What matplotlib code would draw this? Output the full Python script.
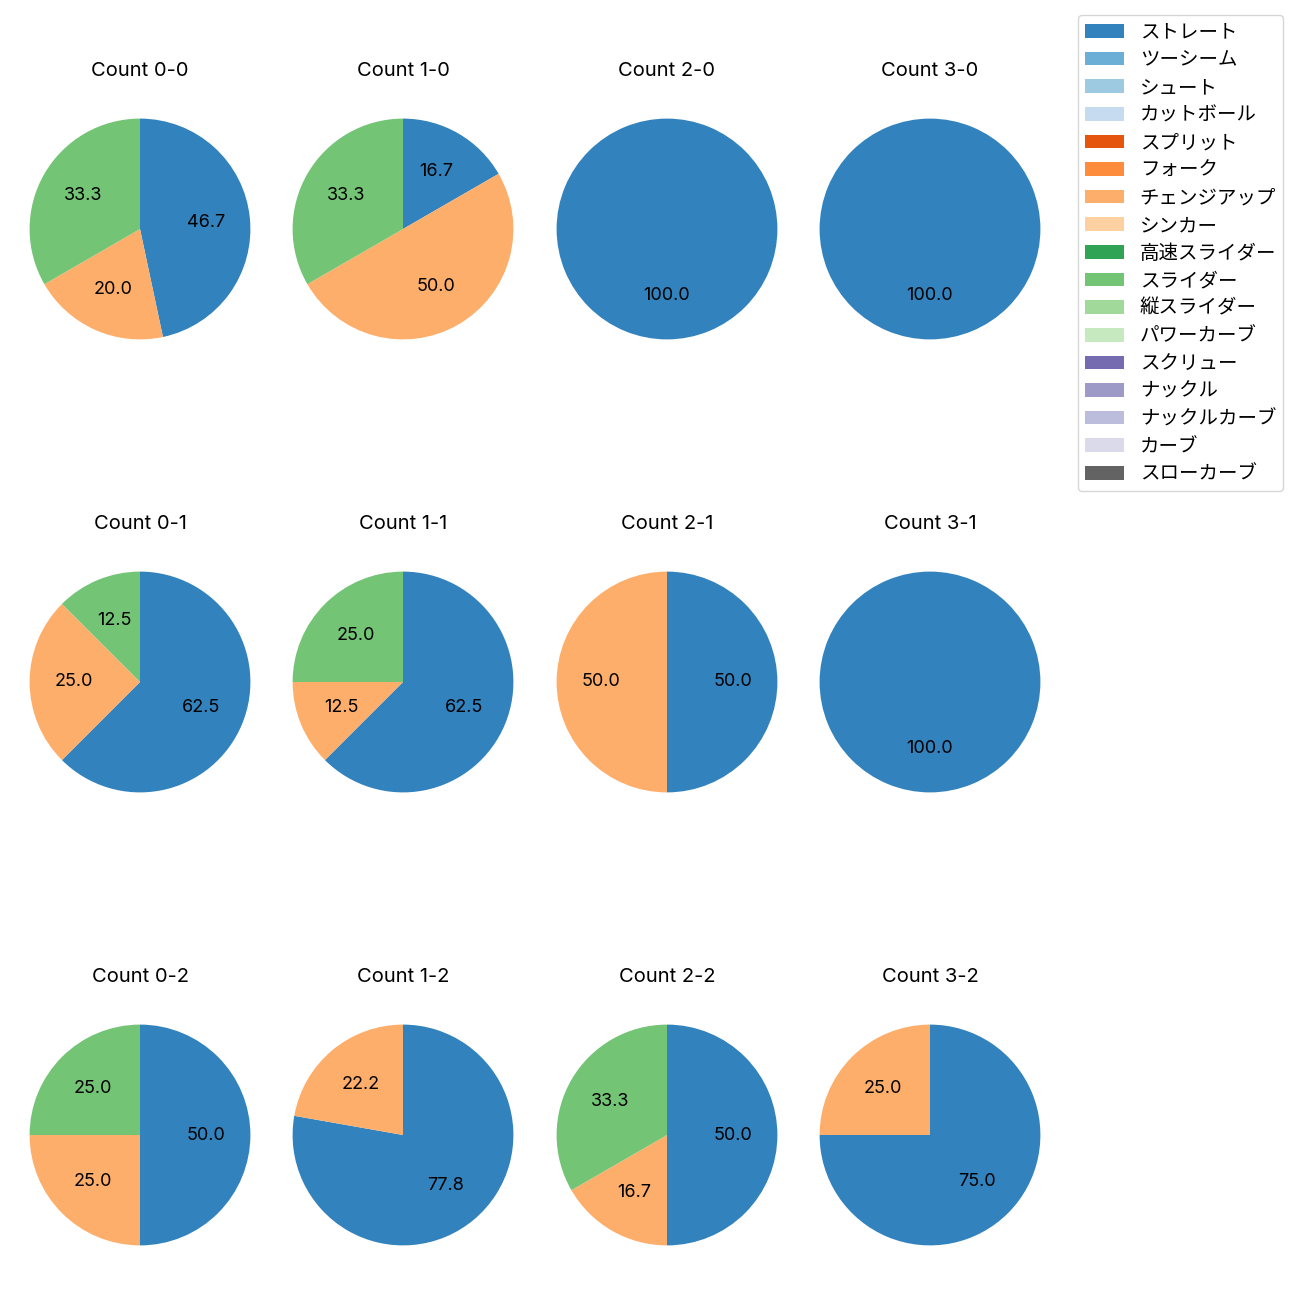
import matplotlib
matplotlib.use("Agg")
import matplotlib.pyplot as plt
from matplotlib.patches import Patch
import numpy as np

plt.rcParams['font.family'] = ['Inter', 'Noto Sans CJK JP', 'DejaVu Sans']

pitch_types = ["ストレート", "ツーシーム", "シュート", "カットボール", "スプリット", "フォーク",
               "チェンジアップ", "シンカー", "高速スライダー", "スライダー", "縦スライダー",
               "パワーカーブ", "スクリュー", "ナックル", "ナックルカーブ", "カーブ", "スローカーブ"]

counts_labels = ["0-0", "1-0", "2-0", "3-0",
                 "0-1", "1-1", "2-1", "3-1",
                 "0-2", "1-2", "2-2", "3-2"]

# pitch counts per count situation (ストレート, チェンジアップ, スライダー)
straight = [7, 1, 1, 1, 5, 5, 1, 1, 2, 7, 3, 3]
changeup = [3, 3, 0, 0, 2, 1, 1, 0, 1, 2, 1, 1]
slider   = [5, 2, 0, 0, 1, 2, 0, 0, 1, 0, 2, 0]

series = {"ストレート": straight, "チェンジアップ": changeup, "スライダー": slider}

cmap = plt.get_cmap('tab20c')
colors = {p: cmap(i) for i, p in enumerate(pitch_types)}

W = H = 1300
fig = plt.figure(figsize=(13, 13), dpi=100)

cx = [140, 403, 667, 930]
cy = [229, 682, 1135]
S = 276

for i, lab in enumerate(counts_labels):
    r, c = divmod(i, 4)
    left = (cx[c] - S / 2) / W
    bottom = 1 - (cy[r] + S / 2) / H
    ax = fig.add_axes([left, bottom, S / W, S / H])
    vals, cols = [], []
    for p in pitch_types:
        if p in series and series[p][i] > 0:
            vals.append(series[p][i])
            cols.append(colors[p])
    ax.pie(vals, colors=cols, startangle=90, counterclock=False,
           autopct='%.1f', textprops={'fontsize': 13})
    ax.set_title(f"Count {lab}", fontsize=14.5, pad=11)

handles = [Patch(facecolor=colors[p]) for p in pitch_types]
fig.legend(handles, pitch_types, loc='upper right',
           bbox_to_anchor=(1283 / W, 1 - 15 / H), borderaxespad=0,
           labelspacing=0.34, borderpad=0.35,
           prop={'family': ['Noto Sans CJK JP', 'DejaVu Sans'], 'size': 14})

fig.savefig("out.png", dpi=100)
